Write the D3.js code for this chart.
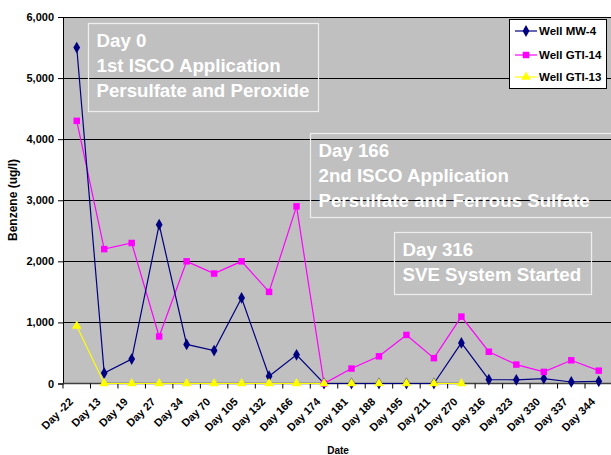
<!DOCTYPE html>
<html>
<head>
<meta charset="utf-8">
<script src="https://cdn.jsdelivr.net/npm/d3@7"></script>
<style>
body{margin:0;background:#fff;}
text{font-family:"Liberation Sans",Arial,sans-serif;}
</style>
</head>
<body>
<svg id="c" width="611" height="455"></svg>
<script>
const categories = ["Day -22","Day 13","Day 19","Day 27","Day 34","Day 70","Day 105","Day 132","Day 166","Day 174","Day 181","Day 188","Day 195","Day 211","Day 270","Day 316","Day 323","Day 330","Day 337","Day 344"];
const mw4   = [5500,170,400,2600,640,540,1400,120,470,0,0,0,0,0,665,65,60,80,25,35];
const gti14 = [4300,2200,2300,770,2000,1800,2000,1500,2900,0,245,445,795,415,1095,520,310,190,380,210];
const gti13 = [940,0,0,0,0,0,0,0,0,0,0,0,0,0,0,null,null,null,null,null];
const yTicks = [0,1000,2000,3000,4000,5000,6000];
const seriesNames = ["Well MW-4","Well GTI-14","Well GTI-13"];
const annotations = [
  ["Day 0","1st ISCO Application","Persulfate and Peroxide"],
  ["Day 166","2nd ISCO Application","Persulfate and Ferrous Sulfate"],
  ["Day 316","SVE System Started"]
];

const svg = d3.select("#c");
const L = 63, R = 612.5, T = 17, B = 383.5;
const x = d3.scaleBand().domain(categories).range([L, R]);
const y = d3.scaleLinear().domain([0, 6000]).range([B, T]);

svg.append("rect").attr("x", L).attr("y", T).attr("width", R - L).attr("height", B - T).attr("fill", "#c0c0c0");

// gridlines
svg.append("g").selectAll("line").data(yTicks.filter(d => d > 0)).join("line")
  .attr("x1", L).attr("x2", R).attr("y1", d => Math.round(y(d)) + 0.5).attr("y2", d => Math.round(y(d)) + 0.5)
  .attr("stroke", "#000").attr("stroke-width", 1);

// y axis
const yAxis = d3.axisLeft(y).tickValues(yTicks).tickFormat(d3.format(",")).tickSize(5).tickPadding(4);
const gy = svg.append("g").attr("transform", `translate(${L},0)`).call(yAxis);
gy.select(".domain").attr("stroke", "#000");
gy.selectAll(".tick line").attr("stroke", "#000");
gy.selectAll(".tick text").attr("font-size", 11).attr("font-weight", "bold").attr("fill", "#000");

// x axis
const boundaries = categories.map(c => x(c)).concat([R]);
svg.append("line").attr("x1", L).attr("x2", R).attr("y1", B).attr("y2", B).attr("stroke", "#404040").attr("stroke-width", 1.5);
svg.append("g").selectAll("line").data(boundaries).join("line")
  .attr("x1", d => d).attr("x2", d => d).attr("y1", B).attr("y2", B + 5).attr("stroke", "#000");
svg.append("g").selectAll("text").data(categories).join("text")
  .attr("transform", d => `translate(${x(d) + x.bandwidth() / 2 - 3},${B + 19}) rotate(-45)`)
  .attr("text-anchor", "end")
  .attr("font-size", 11).attr("font-weight", "bold").text(d => d);

// axis titles
svg.append("text").attr("transform", `translate(17,200) rotate(-90)`).attr("text-anchor", "middle")
  .attr("font-size", 12).attr("font-weight", "bold").text("Benzene (ug/l)");
svg.append("text").attr("x", 338).attr("y", 454).attr("text-anchor", "middle")
  .attr("font-size", 10).attr("font-weight", "bold").text("Date");

// annotation boxes
const boxes = [[88.5, 23.5, 230, 88], [310.5, 133.5, 305, 84], [394.5, 232.5, 197, 62]];
annotations.forEach((lines, i) => {
  const [bx, by, bw, bh] = boxes[i];
  svg.append("rect").attr("x", bx).attr("y", by).attr("width", bw).attr("height", bh)
    .attr("fill", "none").attr("stroke", "#eeeeee").attr("stroke-width", 1.2);
  lines.forEach((t, j) => {
    svg.append("text").attr("x", bx + 8).attr("y", by + 17 + j * 25).attr("dy", "0.35em")
      .attr("fill", "#fff").attr("font-size", 18.7).attr("font-weight", "bold").text(t);
  });
});

// series
const cx = d => x(d) + x.bandwidth() / 2;
const series = [
  {vals: mw4, color: "#000080", marker: d3.symbolDiamond, size: 40},
  {vals: gti14, color: "#ff00ff", marker: d3.symbolSquare, size: 42},
  {vals: gti13, color: "#ffff00", marker: d3.symbolTriangle, size: 40}
];
const line = d3.line().defined(d => d.v !== null).x(d => cx(d.c)).y(d => y(d.v));
[2, 1, 0].forEach(i => {
  const s = series[i];
  const pts = categories.map((c, k) => ({c, v: s.vals[k]}));
  svg.append("path").datum(pts).attr("d", line).attr("fill", "none").attr("stroke", s.color).attr("stroke-width", 1.2);
});
[0, 1, 2].forEach(i => {
  const s = series[i];
  const pts = categories.map((c, k) => ({c, v: s.vals[k]})).filter(d => d.v !== null);
  svg.append("g").selectAll("path").data(pts).join("path")
    .attr("transform", d => `translate(${cx(d.c)},${y(d.v)})`)
    .attr("d", d3.symbol().type(s.marker).size(s.size)).attr("fill", s.color);
});

// legend
const legendRows = [31, 55, 77];
const lg = svg.append("g");
lg.append("rect").attr("x", 509.5).attr("y", 19.5).attr("width", 97).attr("height", 69)
  .attr("fill", "#fff").attr("stroke", "#000").attr("stroke-width", 1);
seriesNames.forEach((n, i) => {
  const ly = legendRows[i];
  const s = series[i];
  lg.append("line").attr("x1", 515).attr("x2", 537).attr("y1", ly).attr("y2", ly).attr("stroke", s.color).attr("stroke-width", 1.2);
  lg.append("path").attr("transform", `translate(526,${ly})`).attr("d", d3.symbol().type(s.marker).size(s.size)).attr("fill", s.color);
  lg.append("text").attr("x", 539).attr("y", ly).attr("dy", "0.35em").attr("font-size", 11.5).attr("font-weight", "bold").text(n);
});
</script>
</body>
</html>
